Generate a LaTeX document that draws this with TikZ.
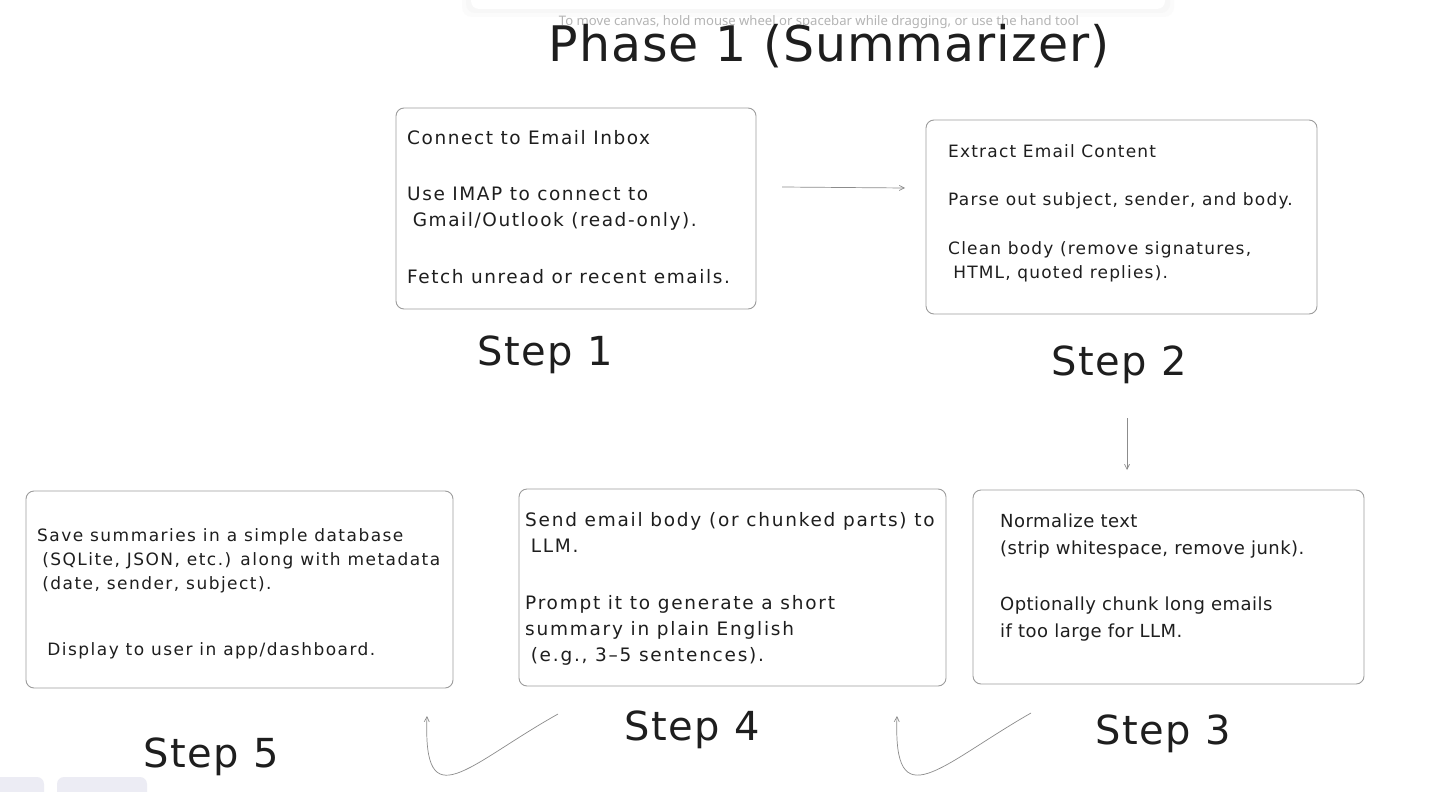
\documentclass[tikz,border=0pt]{standalone}
\usepackage{fontspec}
\setmainfont{DejaVu Sans}
\newfontfamily\hintfont{Noto Sans}
\usetikzlibrary{arrows.meta,positioning,calc}
\definecolor{ink}{HTML}{1E1E1E}
\definecolor{edgegray}{HTML}{9C9C9C}
\definecolor{flowgray}{HTML}{8C8C8C}
\definecolor{hintgray}{HTML}{B4B4B4}
\definecolor{uibtn}{HTML}{ECECF4}

\newcommand{\handsize}[3]{\fontsize{#1}{#2}\selectfont\addfontfeature{LetterSpace=#3}}

\tikzset{
  card/.style={draw=edgegray, rounded corners=8pt, line width=0.9pt, inner sep=0pt},
  cardtext/.style={anchor=north west, align=left, inner sep=0pt, text=ink},
  steplabel/.style={text=ink, font=\handsize{40}{46}{4}},
  flow/.style={draw=flowgray, line width=0.7pt, -{Straight Barb[length=5pt,width=5pt]}}
}

\begin{document}
\begin{tikzpicture}[x=1pt,y=-1pt]
\useasboundingbox (0,0) rectangle (1437,792);
\fill[white] (0,0) rectangle (1437,792);

% editor chrome
\fill[gray!3, rounded corners=10pt] (462,-20) rectangle (1174,17);
\fill[gray!6, rounded corners=9pt] (466,-20) rectangle (1170,13);
\fill[white, rounded corners=8pt] (471,-20) rectangle (1165,9);
\node[text=hintgray, font=\hintfont\fontsize{13.1}{15}\selectfont] (hint) at (819,22)
  {To move canvas, hold mouse wheel or spacebar while dragging, or use the hand tool};
\fill[uibtn, rounded corners=7pt] (-10,777) rectangle (44,802);
\fill[uibtn, rounded corners=7pt] (57,777) rectangle (147,802);

% title
\node[text=ink, font=\handsize{49}{56}{2}] (title) at (829,46) {Phase 1 (Summarizer)};

% step boxes
\node[card, minimum width=360pt, minimum height=201pt] (box1) at (576,208.5) {};
\node[card, minimum width=391pt, minimum height=194pt] (box2) at (1121.5,217) {};
\node[card, minimum width=391pt, minimum height=194pt] (box3) at (1168.5,587) {};
\node[card, minimum width=427pt, minimum height=197pt] (box4) at (732.5,587.5) {};
\node[card, minimum width=427pt, minimum height=197pt] (box5) at (239.5,589.5) {};

\node[cardtext, font=\handsize{18.5}{26}{8.5}] (text1) at (407,130)
  {Connect to Email Inbox\\[30pt]
   Use IMAP to connect to\\
   \hspace{0.3em}Gmail/Outlook (read-only).\\[31pt]
   Fetch unread or recent emails.};
\node[cardtext, font=\handsize{17}{24}{7}] (text2) at (948,144)
  {Extract Email Content\\[24pt]
   Parse out subject, sender, and body.\\[25pt]
   Clean body (remove signatures,\\
   \hspace{0.3em}HTML, quoted replies).};
\node[cardtext, font=\handsize{18}{27}{2.5}] (text3) at (1000,514)
  {Normalize text\\
   (strip whitespace, remove junk).\\[29pt]
   Optionally chunk long emails\\
   if too large for LLM.};
\node[cardtext, font=\handsize{18.5}{26}{9.5}] (text4) at (525,512)
  {Send email body (or chunked parts) to\\
   \hspace{0.3em}LLM.\\[31pt]
   Prompt it to generate a short\\
   summary in plain English\\
   \hspace{0.3em}(e.g., 3--5 sentences).};
\node[cardtext, font=\handsize{17}{24}{8.6}] (text5) at (37,528)
  {Save summaries in a simple database\\
   \hspace{0.3em}(SQLite, JSON, etc.) along with metadata\\
   \hspace{0.3em}(date, sender, subject).\\[42pt]
   \hspace{0.6em}Display to user in app/dashboard.};

% step labels
\node[steplabel] (step1) at (545,355) {Step 1};
\node[steplabel] (step2) at (1119,365) {Step 2};
\node[steplabel] (step3) at (1163,734) {Step 3};
\node[steplabel] (step4) at (692,730) {Step 4};
\node[steplabel] (step5) at (211,757) {Step 5};

% connectors
\coordinate (f1s) at (782,187);
\coordinate (f1e) at (905,188);
\coordinate (f2s) at (1127,418);
\coordinate (f2e) at (1127,470);
\coordinate (f3s) at (1031,713);
\coordinate (f3e) at (897,716);
\coordinate (f4s) at (558,714);
\coordinate (f4e) at (427,716);
\draw[flow] (f1s) -- (f1e);
\draw[flow] (f2s) -- (f2e);
\draw[flow] (f3s) .. controls (940,765) and (893,820) .. (f3e);
\draw[flow] (f4s) .. controls (467,765) and (423,820) .. (f4e);
\end{tikzpicture}
\end{document}
